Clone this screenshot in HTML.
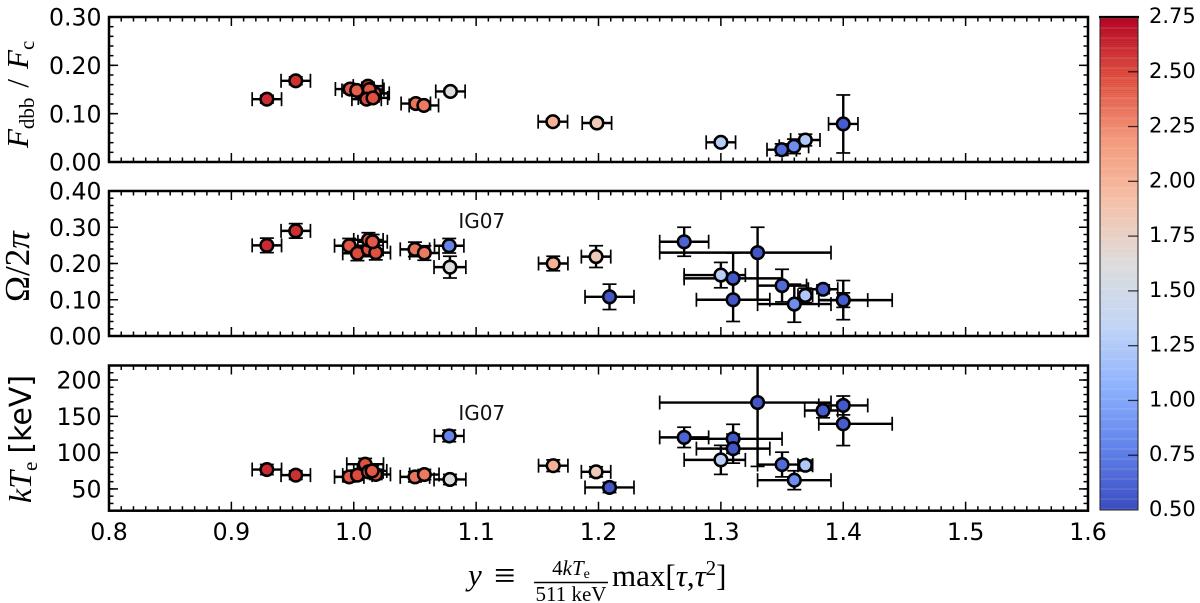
<!DOCTYPE html>
<html lang="en">
<head>
<meta charset="utf-8">
<title>Compton parameter correlations</title>
<style>
html,body{margin:0;padding:0;background:#fff;}
svg{display:block;}
text{fill:#000;}
.tick{font-family:"DejaVu Sans","Liberation Sans",sans-serif;font-size:23.6px;}
.cbt{font-family:"DejaVu Sans","Liberation Sans",sans-serif;font-size:21px;}
.note{font-family:"DejaVu Sans","Liberation Sans",sans-serif;font-size:20px;fill:#111;}
.m{font-family:"Liberation Serif","DejaVu Serif",serif;}
.i{font-style:italic;}
</style>
</head>
<body>
<svg id="chart" xmlns="http://www.w3.org/2000/svg" width="1200" height="603" viewBox="0 0 1200 603">
  <defs>
    <clipPath id="clip-flux"><rect x="109" y="17" width="979" height="145"/></clipPath>
    <clipPath id="clip-omega"><rect x="109" y="191" width="979" height="145"/></clipPath>
    <clipPath id="clip-temp"><rect x="109" y="365.5" width="979" height="145"/></clipPath>
  </defs>
  <g id="colorbar-layer"></g>
  <g id="panels"></g>

  <text class="m" transform="translate(28,148) rotate(-90)" font-size="31"><tspan class="i">F</tspan><tspan font-size="21" dy="6">dbb</tspan><tspan dy="-6" dx="10">/</tspan><tspan class="i" dx="10">F</tspan><tspan font-size="21" dy="6">c</tspan></text>
  <text class="m" transform="translate(29,302) rotate(-90)" font-size="35">Ω/2<tspan class="i">π</tspan></text>
  <text transform="translate(31,503) rotate(-90)"><tspan class="m i" font-size="32">kT</tspan><tspan class="m" font-size="21" dy="6">e</tspan><tspan font-family="DejaVu Sans, sans-serif" font-size="30" dy="-6" dx="8">[keV]</tspan></text>

  <g>
    <text class="m i" x="468" y="585" font-size="31">y</text>
    <text class="m" x="494" y="588" font-size="38">≡</text>
    <text class="m" x="571" y="575" font-size="21" text-anchor="middle"><tspan>4</tspan><tspan class="i">kT</tspan><tspan font-size="14" dy="3">e</tspan></text>
    <line x1="534" y1="582.5" x2="608" y2="582.5" stroke="#000" stroke-width="1.4"/>
    <text class="m" x="571" y="601" font-size="21" text-anchor="middle">511 keV</text>
    <text class="m" x="612" y="586" font-size="31">max[<tspan class="i">τ</tspan>,<tspan class="i">τ</tspan><tspan font-size="21" dy="-11">2</tspan><tspan dy="11">]</tspan></text>
  </g>
</svg>

<script>
// --- axis ticks ---
const xTickLabels = ["0.8","0.9","1.0","1.1","1.2","1.3","1.4","1.5","1.6"];
const fluxTickLabels = ["0.00","0.10","0.20","0.30"];
const omegaTickLabels = ["0.00","0.10","0.20","0.30","0.40"];
const tempTickLabels = ["50","100","150","200"];
const cbarTickLabels = ["0.50","0.75","1.00","1.25","1.50","1.75","2.00","2.25","2.50","2.75"];

// --- panel 1: F_dbb / F_c ---
const fluxX     = [0.929,0.9526,0.997,1.0024,1.0116,1.017,1.0127,1.0105,1.0157,1.0507,1.0573,1.079,1.1627,1.1987,1.30,1.3497,1.3597,1.369,1.40];
const fluxXErr  = [0.012,0.012,0.012,0.012,0.012,0.012,0.012,0.012,0.012,0.012,0.012,0.012,0.012,0.012,0.012,0.012,0.012,0.012,0.012];
const fluxVal   = [0.130,0.168,0.151,0.148,0.157,0.142,0.150,0.130,0.1325,0.121,0.117,0.146,0.0834,0.0807,0.0407,0.0255,0.0324,0.0455,0.0787];
const fluxErr   = [0.008,0.008,0.008,0.008,0.008,0.008,0.008,0.008,0.008,0.008,0.008,0.006,0.006,0.006,0.006,0.012,0.015,0.012,0.06];
const fluxColor = [2.60,2.58,2.42,2.40,2.52,2.45,2.42,2.48,2.45,2.32,2.30,1.62,2.02,1.82,1.30,0.66,0.85,1.25,0.58];

// --- panel 2: Omega / 2 pi ---
const omegaX     = [0.929,0.9526,0.9963,1.003,1.012,1.018,1.012,1.0154,1.05,1.0577,1.078,1.0786,1.163,1.198,1.209,1.27,1.33,1.30,1.31,1.31,1.35,1.36,1.369,1.3835,1.40,1.40];
const omegaXLo   = [0.012,0.012,0.012,0.012,0.012,0.012,0.012,0.012,0.012,0.012,0.012,0.013,0.012,0.012,0.02,0.02,0.08,0.03,0.04,0.03,0.02,0.03,0.006,0.012,0.02,0.02];
const omegaXHi   = [0.012,0.012,0.012,0.012,0.012,0.012,0.012,0.012,0.012,0.012,0.012,0.013,0.012,0.012,0.02,0.02,0.06,0.02,0.04,0.03,0.02,0.03,0.006,0.012,0.02,0.04];
const omegaVal   = [0.250,0.290,0.249,0.228,0.239,0.230,0.265,0.260,0.239,0.229,0.249,0.190,0.200,0.219,0.108,0.260,0.230,0.168,0.159,0.100,0.139,0.088,0.112,0.129,0.099,0.099];
const omegaLo    = [0.02,0.02,0.02,0.02,0.02,0.02,0.02,0.02,0.02,0.02,0.02,0.03,0.02,0.03,0.035,0.04,0.13,0.035,0.06,0.06,0.045,0.05,0.02,0.012,0.02,0.054];
const omegaHi    = [0.02,0.02,0.02,0.02,0.02,0.02,0.02,0.02,0.02,0.02,0.02,0.03,0.02,0.03,0.035,0.04,0.07,0.035,0.07,0.06,0.045,0.055,0.02,0.012,0.02,0.054];
const omegaColor = [2.60,2.58,2.42,2.48,2.45,2.45,2.42,2.42,2.32,2.30,0.80,1.62,2.02,1.82,0.55,0.62,0.55,1.30,0.56,0.55,0.66,0.85,1.25,0.58,0.56,0.58];

// --- panel 3: kT_e ---
const tempX     = [0.929,0.9526,0.9963,1.003,1.0093,1.018,1.012,1.015,1.05,1.0577,1.078,1.0786,1.163,1.198,1.209,1.27,1.30,1.31,1.31,1.33,1.35,1.36,1.369,1.3835,1.40,1.40];
const tempXLo   = [0.012,0.012,0.012,0.012,0.015,0.012,0.012,0.012,0.012,0.012,0.012,0.013,0.012,0.012,0.02,0.02,0.03,0.04,0.03,0.08,0.02,0.03,0.006,0.015,0.02,0.02];
const tempXHi   = [0.012,0.012,0.012,0.012,0.015,0.012,0.012,0.012,0.012,0.012,0.012,0.013,0.012,0.012,0.02,0.02,0.02,0.04,0.03,0.06,0.02,0.03,0.006,0.012,0.02,0.04];
const tempVal   = [76.7,69,66.6,69,84,70,73.5,74.8,66.6,69.8,123,63,82,73.5,52,121,90,119,105.5,169,83.6,62,82.6,158,165,139.7];
const tempLo    = [7,6,7,7,8,7,7,7,7,7,8,7,8,7,7,14,20,20,20,88,17,13,7,10,13,30];
const tempHi    = [7,6,7,7,8,7,7,7,7,7,8,7,8,7,7,14,20,20,20,70,17,13,7,10,13,30];
const tempColor = [2.60,2.58,2.42,2.48,2.45,2.45,2.42,2.42,2.32,2.30,0.80,1.62,2.02,1.82,0.55,0.62,1.30,0.56,0.55,0.55,0.66,0.85,1.25,0.58,0.56,0.58];

// --- annotations ---
const noteLabel = "IG07";
const noteX = 1.0785;
const noteOmega = 0.298;
const noteTemp = 145;

// --- axis functions ---
const SVGNS = "http://www.w3.org/2000/svg";
const xScale = v => 109 + (v - 0.8) / 0.8 * 979;
const colorbarScale = v => 510 - (v - 0.5) / 2.25 * 493;
const linear = (d0, d1, top, bottom) => v => bottom - (v - d0) / (d1 - d0) * (bottom - top);

function make(tag, attrs, parent) {
  const el = document.createElementNS(SVGNS, tag);
  for (const k in attrs) el.setAttribute(k, attrs[k]);
  parent.appendChild(el);
  return el;
}

// Matplotlib "coolwarm" colormap sample points
const cwStops = [[59,76,192],[98,130,234],[141,176,254],[192,212,245],[221,220,220],[245,193,169],[244,152,122],[222,77,60],[180,4,38]];
function coolwarm(v) {
  const t = Math.max(0, Math.min(1, (v - 0.5) / 2.25)) * (cwStops.length - 1);
  const i = Math.min(cwStops.length - 2, Math.floor(t));
  const f = t - i;
  const c = cwStops[i].map((a, k) => Math.round(a + (cwStops[i + 1][k] - a) * f));
  return "rgb(" + c.join(",") + ")";
}

function drawAxes(g, top, bottom, yScale, yMinor, yLabels) {
  const left = 109, right = 1088;
  const tg = make("g", {stroke:"#000", fill:"none"}, g);
  
  
  for (let n = 0; n <= 80; n++) {
    const x = xScale(0.8 + n * 0.01);
    const major = n % 10 === 0;
    const len = major ? 9 : 4.5;
    make("line", {x1:x, x2:x, y1:bottom, y2:bottom - len, "stroke-width":1.5}, tg);
    make("line", {x1:x, x2:x, y1:top, y2:top + len, "stroke-width":1.5}, tg);
  }
  yMinor.forEach(v => {
    const y = yScale(v);
    make("line", {x1:left, x2:left + 4.5, y1:y, y2:y, "stroke-width":1.5}, tg);
    make("line", {x1:right, x2:right - 4.5, y1:y, y2:y, "stroke-width":1.5}, tg);
  });
  yLabels.forEach(s => {
    const y = yScale(parseFloat(s));
    make("line", {x1:left, x2:left + 9, y1:y, y2:y, "stroke-width":1.5}, tg);
    make("line", {x1:right, x2:right - 9, y1:y, y2:y, "stroke-width":1.5}, tg);
    const t = make("text", {x:101.5, y:y + 8.6, "text-anchor":"end", class:"tick"}, g);
    
    
    t.textContent = s;
  });
  const frame = make("rect", {x:left, y:top, width:right - left, height:bottom - top, fill:"none", stroke:"#000", "stroke-width":2.5}, g);
  
  
}

function drawSeries(g, clip, yScale, X, XLo, XHi, V, Lo, Hi, C) {
  const eg = make("g", {"clip-path":"url(#" + clip + ")", stroke:"#000", fill:"none"}, g);
  
  
  X.forEach((xv, i) => {
    const x = xScale(xv), y = yScale(V[i]);
    const xa = xScale(xv - XLo[i]), xb = xScale(xv + XHi[i]);
    const ya = yScale(V[i] + Hi[i]), yb = yScale(V[i] - Lo[i]);
    make("line", {x1:xa, x2:xb, y1:y, y2:y, "stroke-width":2.4}, eg);
    make("line", {x1:x, x2:x, y1:ya, y2:yb, "stroke-width":2.4}, eg);
    [xa, xb].forEach(cx => make("line", {x1:cx, x2:cx, y1:y - 7, y2:y + 7, "stroke-width":1.7}, eg));
    [ya, yb].forEach(cy => make("line", {x1:x - 7, x2:x + 7, y1:cy, y2:cy, "stroke-width":1.7}, eg));
  });
  const mg = make("g", {"clip-path":"url(#" + clip + ")"}, g);
  
  
  X.forEach((xv, i) => {
    const c = make("circle", {cx:xScale(xv), cy:yScale(V[i]), r:6.3, fill:coolwarm(C[i]), stroke:"#000", "stroke-width":2.5}, mg);
    
    
  });
}

const root = document.getElementById("panels");

// Panel 1
const pFlux = make("g", {}, root);


const yFlux = linear(0, 0.30, 17, 162);
const fluxMinor = [];
for (let n = 0; n <= 15; n++) fluxMinor.push(n * 0.02);
drawAxes(pFlux, 17, 162, yFlux, fluxMinor, fluxTickLabels);
drawSeries(pFlux, "clip-flux", yFlux, fluxX, fluxXErr, fluxXErr, fluxVal, fluxErr, fluxErr, fluxColor);

// Panel 2
const pOmega = make("g", {}, root);


const yOmega = linear(0, 0.40, 191, 336);
const omegaMinor = [];
for (let n = 0; n <= 20; n++) omegaMinor.push(n * 0.02);
drawAxes(pOmega, 191, 336, yOmega, omegaMinor, omegaTickLabels);
drawSeries(pOmega, "clip-omega", yOmega, omegaX, omegaXLo, omegaXHi, omegaVal, omegaLo, omegaHi, omegaColor);
const noteA = make("text", {x:xScale(noteX) + 8.5, y:yOmega(noteOmega), class:"note"}, pOmega);


noteA.textContent = noteLabel;

// Panel 3
const pTemp = make("g", {}, root);


const yTemp = linear(20, 220, 365.5, 510.7);
const tempMinor = [];
for (let n = 0; n <= 20; n++) tempMinor.push(20 + n * 10);
drawAxes(pTemp, 365.5, 510.7, yTemp, tempMinor, tempTickLabels);
drawSeries(pTemp, "clip-temp", yTemp, tempX, tempXLo, tempXHi, tempVal, tempLo, tempHi, tempColor);
const noteB = make("text", {x:xScale(noteX) + 8.5, y:yTemp(noteTemp), class:"note"}, pTemp);


noteB.textContent = noteLabel;

// Shared x tick labels
xTickLabels.forEach(s => {
  const t = make("text", {x:xScale(parseFloat(s)), y:540, "text-anchor":"middle", class:"tick"}, root);
  
  
  t.textContent = s;
});

// Colorbar
const cb = document.getElementById("colorbar-layer");
for (let n = 0; n < 246; n++) {
  const v = 0.5 + (n + 0.5) / 246 * 2.25;
  const y = colorbarScale(0.5 + (n + 1) / 246 * 2.25);
  const band = make("rect", {x:1100, y:y, width:38, height:2.2, fill:coolwarm(v), "fill-opacity": n % 5 === 0 ? 0.9 : 1}, cb);
  
  
}
const cbFrame = make("rect", {x:1100, y:17, width:38, height:493, fill:"none", stroke:"#222", "stroke-width":1}, cb);


const cbTop = make("line", {x1:1099, x2:1139, y1:17, y2:17, stroke:"#000", "stroke-width":2.2}, cb);


cbarTickLabels.forEach(s => {
  const y = colorbarScale(parseFloat(s));
  if (s !== "0.50" && s !== "2.75") {
    const tk = make("line", {x1:1128, x2:1138, y1:y, y2:y, stroke:"#000", "stroke-opacity":0.75, "stroke-width":1.3}, cb);
    
    
  }
  const t = make("text", {x:1149, y:y + 6, class:"cbt"}, cb);
  
  
  t.textContent = s;
});
</script>
</body>
</html>
